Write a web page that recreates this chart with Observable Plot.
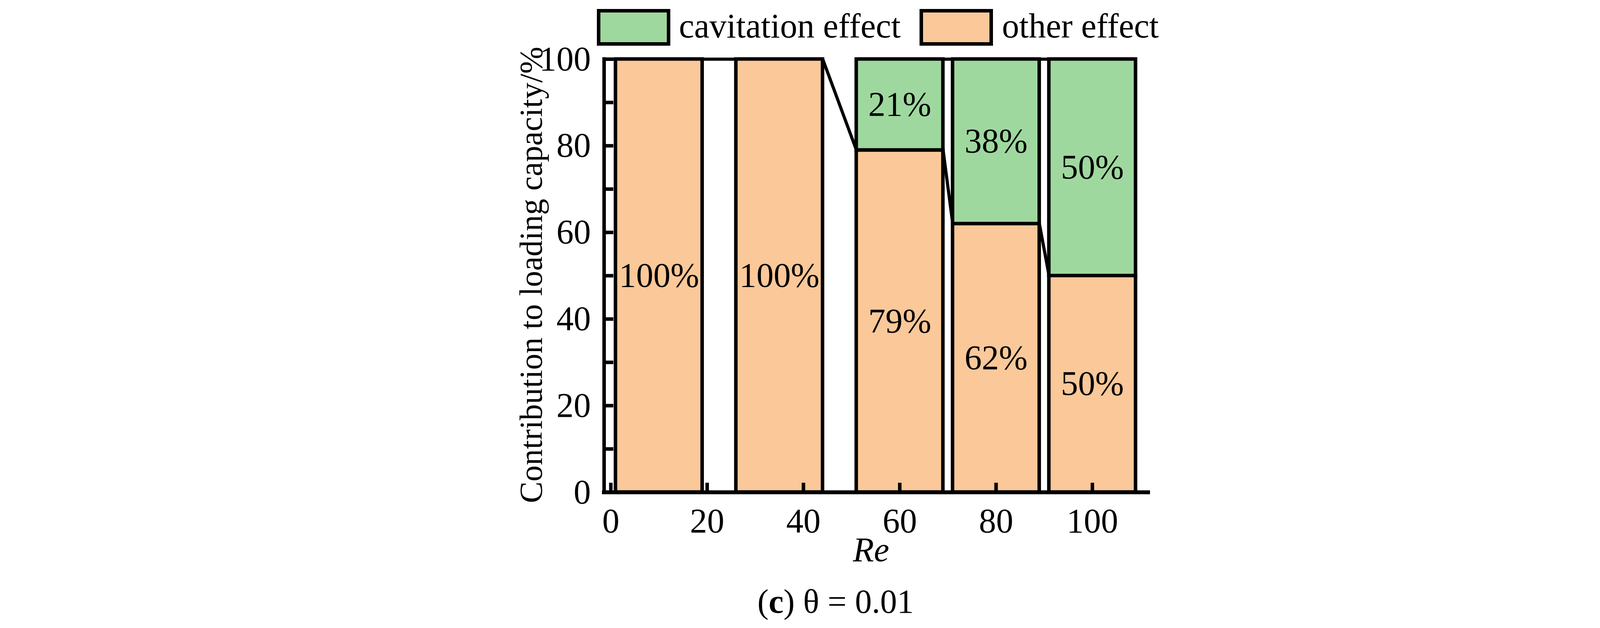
<!DOCTYPE html>
<html>
<head>
<meta charset="utf-8">
<script src="https://cdn.jsdelivr.net/npm/d3@7"></script>
<script src="https://cdn.jsdelivr.net/npm/@observablehq/plot@0.6"></script>
<style>
  body { margin: 0; background: #fff; width: 4251px; height: 1608px; overflow: hidden;
         font-family: "Liberation Serif", "Times New Roman", serif; color: #000; position: relative; }
  #legend { position: relative; height: 130px; }
  .swatch { position: absolute; top: 23px; width: 188px; height: 94px; box-sizing: border-box; border: 9px solid #000; }
  .lab { position: absolute; top: 23px; font-size: 88px; line-height: 1; white-space: nowrap; }
  #caption { position: absolute; left: 1939px; top: 1497px; font-size: 86px; line-height: 1; white-space: nowrap; }
  #chart svg { display: block; }
</style>
</head>
<body>
<div id="legend"></div>
<div id="chart"></div>
<div id="caption">(<b>c</b>) θ = 0.01</div>
<script>
// Re position of each column and the two stacked shares (%)
const re = [10, 35, 60, 80, 100]
const other = [100, 100, 79, 62, 50]
const cavitation = [0, 0, 21, 38, 50]

const xTicks = [0, 20, 40, 60, 80, 100]
const yTicks = [0, 20, 40, 60, 80, 100]
const yMinor = [0, 10, 20, 30, 40, 50, 60, 70, 80, 90, 100]

const series = ['cavitation effect', 'other effect']
const colors = ['#9fd89f', '#fbc899']

const xMin = -1.4, xMax = 111.6
const half = 9

// legend (html, above the svg)
const legend = d3.select('#legend')
const legendLeft = [[1528, 1738], [2354, 2565]]
series.forEach((s, i) => {
  legend.append('div').attr('class', 'swatch')
    .style('left', legendLeft[i][0] + 'px').style('background', colors[i])
  legend.append('div').attr('class', 'lab')
    .style('left', legendLeft[i][1] + 'px').text(s)
})

let rows = []
re.forEach((r, i) => {
  rows.push({re: r, series: 'other effect', y1: 0, y2: other[i], value: other[i]})
  if (cavitation[i] > 0)
    rows.push({re: r, series: 'cavitation effect', y1: other[i], y2: other[i] + cavitation[i], value: cavitation[i]})
})

// connecting lines between neighbouring columns
let links = [{x1: xMin, y1: other[0], x2: re[0] - half, y2: other[0]}]
for (let i = 0; i < re.length - 1; i++) {
  links.push({x1: re[i] + half, y1: other[i], x2: re[i + 1] - half, y2: other[i + 1]})
  if (cavitation[i] > 0 && cavitation[i + 1] > 0)
    links.push({x1: re[i] + half, y1: other[i] + cavitation[i], x2: re[i + 1] - half, y2: other[i + 1] + cavitation[i + 1]})
}

let chart = Plot.plot({
  width: 4251,
  height: 1350,
  marginLeft: 1546,
  marginRight: 1312,
  marginTop: 21,
  marginBottom: 220,
  style: {fontFamily: '"Liberation Serif", "Times New Roman", serif', fontSize: '88px', background: 'white', color: 'black', overflow: 'visible'},
  x: {domain: [xMin, xMax]},
  y: {domain: [0, 100]},
  color: {domain: series, range: colors},
  marks: [
    Plot.rectY(rows, {
      x1: d => d.re - half,
      x2: d => d.re + half,
      y1: 'y1',
      y2: 'y2',
      fill: 'series',
      stroke: 'black',
      strokeWidth: 9,
    }),
    Plot.link(links, {x1: 'x1', y1: 'y1', x2: 'x2', y2: 'y2', stroke: 'black', strokeWidth: 8}),
    Plot.text(rows, {
      x: 're',
      y: d => (d.y1 + d.y2) / 2,
      text: d => d.value + '%',
      fontSize: 88,
    }),
    Plot.axisX(xTicks, {tickSize: -24, tickFormat: () => '', strokeWidth: 9, label: null}),
    Plot.axisY(yMinor, {tickSize: -24, tickFormat: () => '', strokeWidth: 9, label: null}),
    Plot.axisX(xTicks, {tickSize: 0, tickPadding: 40, fontSize: 88, label: null}),
    Plot.axisY(yTicks, {tickSize: 0, tickPadding: 34, fontSize: 88, label: null}),
    Plot.ruleX([xMin], {y1: 0, y2: 100, strokeWidth: 9, strokeLinecap: 'square'}),
    Plot.ruleY([0], {x1: xMin, x2: xMax, strokeWidth: 10, strokeLinecap: 'square'}),
    Plot.text(['Contribution to loading capacity/%'], {
      frameAnchor: 'left', textAnchor: 'middle', lineAnchor: 'middle',
      rotate: -90, dx: -186, dy: -2, fontSize: 83,
    }),
    Plot.text(['Re'], {
      frameAnchor: 'bottom', textAnchor: 'middle', lineAnchor: 'middle',
      dy: 148, dx: -13, fontStyle: 'italic', fontSize: 88,
    }),
  ],
})
d3.select('#chart').append(() => chart)
</script>
</body>
</html>
